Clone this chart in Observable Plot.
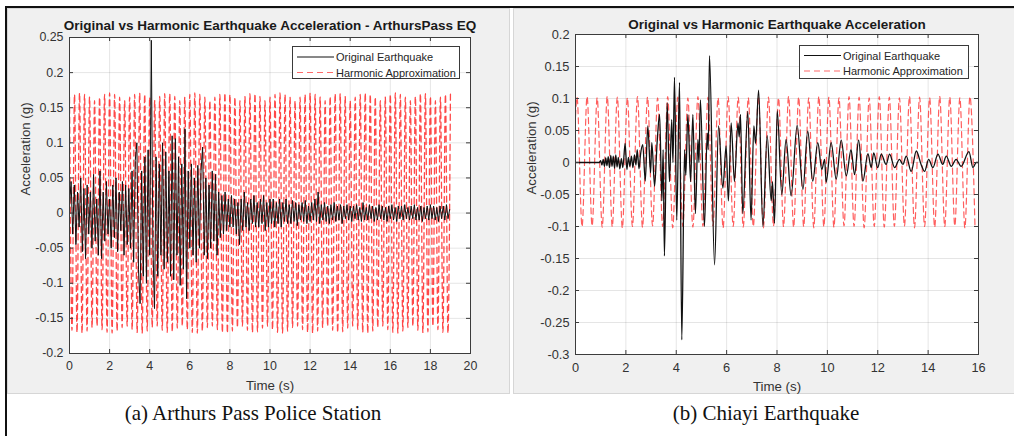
<!DOCTYPE html>
<html><head><meta charset="utf-8">
<script src="https://cdn.jsdelivr.net/npm/d3@7"></script>
<script src="https://cdn.jsdelivr.net/npm/@observablehq/plot@0.6"></script>
<style>
html,body{margin:0;padding:0;background:#fff;}
#root{position:relative;width:1014px;height:436px;overflow:hidden;font-family:"Liberation Sans",Arial,sans-serif;}
.abs{position:absolute;}
.panel{position:absolute;background:#f0f0f0;box-sizing:border-box;border:1px solid #d6d6d6;}
.legend{position:absolute;background:#fff;border:1px solid #3a3a3a;box-sizing:border-box;font-size:11px;color:#262626;}
.legend svg{position:absolute;left:0;top:0;}
.legend span{position:absolute;white-space:nowrap;}
.caption{position:absolute;font-family:"Liberation Serif","Times New Roman",serif;font-size:21px;color:#111;white-space:nowrap;transform:translateX(-50%);}
</style>
</head><body><div id="root"></div>
<script>
// ---------------- data ----------------
const xTicksA = [0,2,4,6,8,10,12,14,16,18,20];
const yTicksA = [-0.2,-0.15,-0.1,-0.05,0,0.05,0.1,0.15,0.2,0.25];
const xTicksB = [0,2,4,6,8,10,12,14,16];
const yTicksB = [-0.3,-0.25,-0.2,-0.15,-0.1,-0.05,0,0.05,0.1,0.15,0.2];
const seriesNames = ["Original Earthquake","Harmonic Approximation"];
const titleA = "Original vs Harmonic Earthquake Acceleration - ArthursPass EQ";
const titleB = "Original vs Harmonic Earthquake Acceleration";
const captionA = "(a) Arthurs Pass Police Station";
const captionB = "(b) Chiayi Earthquake";

const quakeA_dt = 0.08;
const quakeA = [
0.01,0.045,-0.03,0.04,-0.045,0.03,-0.02,0.05,-0.055,0.035,-0.065,0.04,-0.03,
0.03,-0.05,0.055,-0.04,0.02,-0.06,0.06,-0.065,0.03,-0.04,0.045,-0.03,0.02,
-0.05,0.04,-0.035,0.05,-0.055,0.03,-0.025,0.045,-0.06,0.04,-0.045,0.035,
-0.05,0.06,-0.07,0.075,0.1,-0.08,-0.129,0.06,-0.09,0.08,-0.1,0.09,-0.06,
0.246,-0.05,-0.136,0.08,-0.09,0.07,-0.06,0.1,-0.08,0.087,-0.07,0.06,
-0.09,0.11,-0.095,0.106,-0.06,0.08,-0.103,0.07,-0.08,0.12,-0.122,0.06,-0.05,
0.07,-0.06,0.05,-0.07,0.068,-0.05,0.06,0.094,-0.06,0.05,-0.065,0.04,
-0.05,0.06,-0.04,0.055,-0.06,0.03,-0.035,0.025,-0.03,0.03,-0.025,0.02,-0.02,
0.025,-0.02,0.02,-0.03,0.015,-0.045,0.02,-0.025,0.03,-0.02,0.015,-0.025,
0.02,-0.015,0.025,-0.02,0.015,-0.02,0.02,-0.015,0.025,-0.025,0.015,-0.02,0.02,
-0.015,0.02,-0.02,0.015,-0.015,0.02,-0.02,0.015,-0.012,0.02,-0.015,0.012,
-0.015,0.018,-0.012,0.015,-0.018,0.012,-0.01,0.015,-0.012,0.018,-0.015,0.01,-0.012,
0.015,-0.01,0.02,-0.012,0.03,-0.015,0.012,-0.01,0.015,-0.012,0.01,-0.015,
0.012,-0.01,0.015,-0.012,0.01,-0.01,0.012,-0.015,0.01,-0.008,0.012,-0.01,0.01,
-0.012,0.01,-0.008,0.012,-0.01,0.008,-0.012,0.015,-0.01,0.008,-0.01,0.012,
-0.008,0.01,-0.012,0.008,-0.01,0.012,-0.008,0.01,-0.01,0.008,-0.012,0.01,-0.008,
0.012,-0.01,0.008,-0.012,0.01,-0.008,0.01,-0.01,0.012,-0.008,0.008,-0.01,
0.01,-0.008,0.012,-0.01,0.008,-0.01,0.01,-0.012,0.008,-0.008,0.01,-0.01,0.012,
-0.008,0.01,-0.01,0.008,-0.012,0.01,-0.008,0.01,-0.01,0.012,-0.008,0.005
];

// Arthurs Pass harmonic approximation: crest and trough values, one every half period
const harmA_half = 0.125;
const harmA_crests = [
0.165,0.169,0.171,0.169,0.165,
0.160,0.165,0.169,0.171,0.169,0.165,
0.160,0.165,0.169,0.171,0.169,0.165,
0.160,0.166,0.170,0.170,0.166,
0.160,0.165,0.169,0.171,0.169,0.165,
0.160,0.165,0.169,0.171,0.169,0.165,
0.160,0.166,0.170,0.170,0.166,
0.160,0.165,0.169,0.171,0.169,0.165,
0.160,0.165,0.169,0.171,0.169,0.165,
0.160,0.166,0.170,0.170,0.166,
0.160,0.165,0.169,0.171,0.169,0.165,
0.160,0.165,0.169,0.171,0.169,0.165,
0.160,0.166,0.170,0.170,0.166,
0.160,0.165,0.169,0.171
];
const harmA_troughs = [
-0.167,-0.170,-0.171,-0.168,-0.163,
-0.161,-0.166,-0.170,-0.171,-0.168,-0.163,
-0.161,-0.166,-0.170,-0.171,-0.168,-0.163,
-0.161,-0.167,-0.170,-0.169,-0.164,
-0.161,-0.166,-0.170,-0.171,-0.168,-0.163,
-0.161,-0.166,-0.170,-0.171,-0.168,-0.163,
-0.161,-0.167,-0.170,-0.169,-0.164,
-0.161,-0.166,-0.170,-0.171,-0.168,-0.163,
-0.161,-0.166,-0.170,-0.171,-0.168,-0.163,
-0.161,-0.167,-0.170,-0.169,-0.164,
-0.161,-0.166,-0.170,-0.171,-0.168,-0.163,
-0.161,-0.166,-0.170,-0.171,-0.168,-0.163,
-0.161,-0.167,-0.170,-0.169,
-0.161,-0.166,-0.170,-0.171
];
const harmA_end = 19;

// Chiayi record: turning points (time in s, acceleration in g)
const quakeB_t = [0,0.95,1.0,1.05,1.1,1.15,1.2,1.25,1.3,1.35,1.4,1.45,1.5,1.55,1.6,1.65,1.7,1.76,1.82,1.88,1.97,2.04,2.1,2.16,2.22,2.28,2.34,2.4,2.45,2.52,2.58,2.67,2.77,2.87,2.98,3.03,3.14,3.24,3.34,3.43,3.48,3.53,3.64,3.73,3.82,3.87,3.93,4.02,4.13,4.22,4.33,4.38,4.46,4.57,4.66,4.76,4.86,4.9,4.96,5.12,5.23,5.27,5.32,5.52,5.68,5.85,5.98,6.07,6.18,6.31,6.45,6.5,6.55,6.64,6.84,6.97,7.08,7.15,7.27,7.44,7.61,7.77,7.82,7.9,8.01,8.19,8.36,8.56,8.8,9.03,9.22,9.42,9.62,9.78,9.89,9.95,10.15,10.35,10.55,10.75,10.94,11.08,11.24,11.41,11.61,11.74,11.84,12.0,12.14,12.33,12.47,12.67,12.86,13.0,13.13,13.33,13.53,13.72,13.86,14.02,14.19,14.39,14.58,14.72,14.92,15.11,15.31,15.62,15.78,15.91,16.0];
const quakeB_v = [0,0,0.003,-0.004,0.005,-0.006,0.007,-0.005,0.009,-0.008,0.011,-0.006,0.01,-0.009,0.012,-0.007,0.008,-0.01,0.006,-0.008,0.03,-0.011,0.008,-0.006,0.01,-0.008,0.012,-0.004,0.02,-0.01,0.012,0.028,-0.029,0.057,-0.016,0.031,-0.037,0.031,0.075,-0.06,0.02,-0.146,0.093,-0.03,0.067,0.0,0.133,-0.09,0.125,-0.277,0.02,-0.02,0.075,-0.03,0.075,-0.08,0.036,0.0,0.098,-0.1,0.046,0.02,0.167,-0.16,0.057,-0.04,0.026,-0.06,0.062,-0.03,0.062,0.04,0.075,-0.08,0.08,-0.09,0.057,0.03,0.113,-0.1,0.042,-0.06,-0.03,-0.095,0.081,-0.05,0.036,-0.052,0.058,-0.042,0.049,-0.029,0.031,-0.011,0.005,-0.031,0.031,-0.026,0.035,-0.021,0.02,-0.019,0.035,-0.029,0.014,-0.008,0.015,-0.008,0.013,-0.003,0.013,-0.008,0.005,-0.003,0.01,-0.014,0.018,-0.003,-0.014,0.005,-0.008,0.013,-0.003,0.01,-0.006,0.005,-0.006,0.017,-0.008,0.0,0.0];

// Chiayi harmonic approximation: starting value, then crest/trough values every half period
const harmB_start = 0.072;
const harmB_first = 0.06;
const harmB_half = 0.2;
const harmB_extrema = [
0.102,-0.100,0.103,-0.099,0.101,-0.101,0.103,-0.100,0.102,-0.102,
0.101,-0.100,0.103,-0.101,0.102,-0.099,0.101,-0.100,0.103,-0.102,
0.102,-0.100,0.101,-0.101,0.103,-0.100,0.102,-0.099,0.101,-0.102,
0.103,-0.100,0.102,-0.101,0.101,-0.100,0.103,-0.102,0.102,-0.099,
0.101,-0.100,0.103,-0.101,0.102,-0.100,0.101,-0.102,0.103,-0.100,
0.102,-0.101,0.101,-0.099,0.103,-0.100,0.102,-0.102,0.101,-0.100,
0.103,-0.101,0.102,-0.100,0.101,-0.099,0.103,-0.102,0.102,-0.100,
0.101,-0.101,0.103,-0.100,0.102,-0.099,0.101,-0.102,0.103,-0.100
];
const harmB_end = 16;

// ---------------- tables ----------------
const tableQuakeA = quakeA.map((v,i)=>({t:i*quakeA_dt, v}));
const tableHarmA = [];
for (let i=0;;i++){
  const t = i*harmA_half; if (t>harmA_end+1e-9) break;
  const v = (i%2===0) ? harmA_crests[i/2] : harmA_troughs[(i-1)/2];
  if (v===undefined) break;
  tableHarmA.push({t, v});
}
const tableQuakeB = quakeB_t.map((t,i)=>({t, v:quakeB_v[i]}));
const tableHarmB = [{t:0, v:harmB_start}];
harmB_extrema.forEach((v,i)=>{ const t = harmB_first + i*harmB_half; if (t<=harmB_end) tableHarmB.push({t,v}); });

// ---------------- drawing ----------------
const root = document.getElementById("root");
function addDiv(cls, style, html){ const d=document.createElement("div"); d.className=cls; Object.assign(d.style, style); if(html!==undefined) d.innerHTML=html; root.appendChild(d); return d; }

// figure decorations
addDiv("abs",{left:"5px",top:"6px",width:"1009px",height:"2px",background:"#111"});
addDiv("abs",{left:"5px",top:"6px",width:"2px",height:"430px",background:"#111"});
addDiv("panel",{left:"7px",top:"8px",width:"503px",height:"386px"});
addDiv("panel",{left:"513px",top:"8px",width:"503px",height:"386px"});

const fmt = d => String(Math.round(d*100)/100);
const axisColor = "#3c3c3c";
const textColor = "#333333";

function chart({left, top, width, height, mL, mT, mR, mB, xDomain, yDomain, xTicks, yTicks, quake, harm, title, titleDy, tickFont, quakeCurve, quakeWidth, harmWidth, harmOpacity}){
  const iw = width - mL - mR, ih = height - mT - mB;
  const svg = Plot.plot({
    width, height, marginLeft:mL, marginTop:mT, marginRight:mR, marginBottom:mB,
    style:{background:"transparent", fontFamily:'"Liberation Sans",Arial,sans-serif', overflow:"visible"},
    x:{domain:xDomain, axis:null},
    y:{domain:yDomain, axis:null},
    marks:[
      Plot.frame({fill:"white"}),
      Plot.gridX(xTicks, {stroke:"#000", strokeOpacity:0.1}),
      Plot.gridY(yTicks, {stroke:"#000", strokeOpacity:0.1}),
      Plot.line(harm, {x:"t", y:"v", stroke:"#ff1a1a", strokeOpacity:harmOpacity, strokeWidth:harmWidth, strokeDasharray:"6,4", curve:"monotone-x", clip:true}),
      Plot.line(quake, {x:"t", y:"v", stroke:"#111", strokeWidth:quakeWidth, curve:quakeCurve, clip:true}),
      Plot.tickX(xTicks, {insetTop: ih-4, stroke:axisColor}),
      Plot.tickX(xTicks, {insetBottom: ih-4, stroke:axisColor}),
      Plot.tickY(yTicks, {insetRight: iw-4, stroke:axisColor}),
      Plot.tickY(yTicks, {insetLeft: iw-4, stroke:axisColor}),
      Plot.frame({stroke:axisColor, strokeWidth:1}),
      Plot.axisX(xTicks, {tickSize:0, tickPadding:8, tickFormat:fmt, fontSize:tickFont, fill:textColor, label:null}),
      Plot.axisY(yTicks, {tickSize:0, tickPadding:6, tickFormat:fmt, fontSize:tickFont, fill:textColor, label:null}),
      Plot.text([title], {frameAnchor:"top", dy:titleDy, lineAnchor:"middle", fontWeight:"bold", fontSize:13.5, fill:"#1a1a1a"}),
      Plot.text(["Time (s)"], {frameAnchor:"bottom", dy:32, lineAnchor:"middle", fontSize:13.3, fill:textColor}),
      Plot.text(["Acceleration (g)"], {frameAnchor:"left", dx:-44, rotate:-90, lineAnchor:"middle", fontSize:13.3, fill:textColor})
    ]
  });
  svg.style.position="absolute"; svg.style.left=left+"px"; svg.style.top=top+"px";
  root.appendChild(svg);
}

chart({left:8, top:8, width:502, height:385, mL:61, mT:29, mR:40, mB:40,
  xDomain:[0,20], yDomain:[-0.2,0.25], xTicks:xTicksA, yTicks:yTicksA,
  quake:tableQuakeA, harm:tableHarmA, title:titleA, titleDy:-12, tickFont:12.4,
  quakeCurve:"linear", quakeWidth:1, harmWidth:1.3, harmOpacity:0.8});
chart({left:514, top:8, width:500, height:385, mL:61, mT:26, mR:36, mB:39,
  xDomain:[0,16], yDomain:[-0.3,0.2], xTicks:xTicksB, yTicks:yTicksB,
  quake:tableQuakeB, harm:tableHarmB, title:titleB, titleDy:-10, tickFont:12.8,
  quakeCurve:"monotone-x", quakeWidth:1.3, harmWidth:1.2, harmOpacity:0.7});

function legend(left, top, w, h, row1, row2){
  const d = addDiv("legend",{left:left+"px",top:top+"px",width:w+"px",height:h+"px"});
  d.innerHTML =
    `<svg width="${w}" height="${h}">`+
    `<line x1="4" x2="41" y1="${row1}" y2="${row1}" stroke="#111" stroke-width="1"/>`+
    `<line x1="4" x2="41" y1="${row2}" y2="${row2}" stroke="#ff1a1a" stroke-opacity="0.65" stroke-width="1.2" stroke-dasharray="6,4"/>`+
    `</svg>`+
    `<span style="left:43px;top:${row1-7}px;line-height:14px">${seriesNames[0]}</span>`+
    `<span style="left:43px;top:${row2-7}px;line-height:14px">${seriesNames[1]}</span>`;
}
legend(292, 46, 168, 33, 10, 25.5);
legend(799, 45, 170, 34, 9.5, 25);

addDiv("caption",{left:"253px",top:"401px"}, captionA);
addDiv("caption",{left:"766px",top:"401px"}, captionB);
</script>
</body></html>
